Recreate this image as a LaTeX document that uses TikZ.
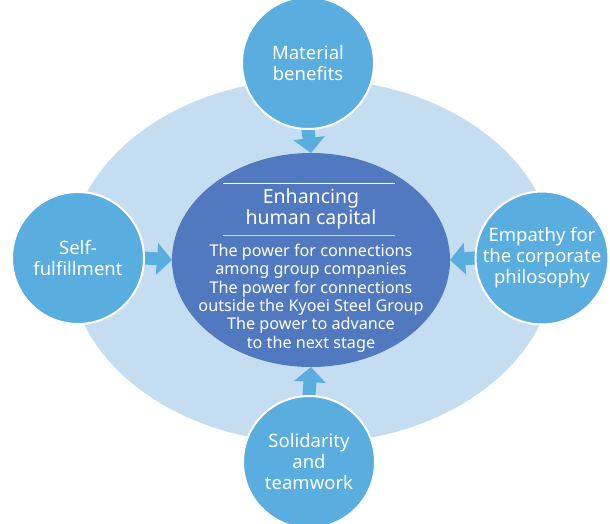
\documentclass[tikz,border=0pt]{standalone}
\usepackage{fontspec}
\setmainfont{Noto Sans}
\usetikzlibrary{arrows.meta}
\definecolor{bgell}{HTML}{C5DDF1}
\definecolor{circ}{HTML}{5AADDF}
\definecolor{core}{HTML}{5179C0}
\pgfdeclarelayer{bg}
\pgfdeclarelayer{mid}
\pgfsetlayers{bg,mid,main}
\tikzset{
  outer/.style={circle, fill=circ, draw=white, line width=2pt, minimum size=132pt, inner sep=0pt,
    text=white, align=center, font=\fontsize{18.5}{21}\selectfont},
  blockarrow/.style={draw=circ, line width=13pt, -{Triangle[width=31pt,length=15pt]}, shorten <=-4pt},
  sepline/.style={draw=white, line width=1pt},
}
\begin{document}
\begin{tikzpicture}[x=1pt,y=-1pt]
\useasboundingbox (0,0) rectangle (610,523);
\begin{pgfonlayer}{bg}
\fill[bgell] (312,261) ellipse [x radius=243, y radius=182];
\fill[core] (311,260) ellipse [x radius=139, y radius=107];
\end{pgfonlayer}
\coordinate (coreN) at (311,153);
\coordinate (coreS) at (311,367);
\coordinate (coreW) at (172,260);
\coordinate (coreE) at (450,260);
\node[outer] (top) at (308,63) {Material\\benefits};
\node[outer] (left) at (78,258) {Self-\\fulfillment};
\node[outer] (right) at (542,258) {Empathy for\\the corporate\\philosophy};
\node[outer] (bottom) at (309,462) {Solidarity\\and\\teamwork};
\begin{pgfonlayer}{mid}
\draw[blockarrow] (top.south) -- (coreN);
\draw[blockarrow] (left.east) -- (coreW);
\draw[blockarrow] (right.west) -- (coreE);
\draw[blockarrow] (bottom.north) -- (coreS);
\end{pgfonlayer}
\coordinate (l1a) at (223,183);
\coordinate (l1b) at (395,183);
\coordinate (l2a) at (223,235);
\coordinate (l2b) at (395,235);
\draw[sepline] (l1a) -- (l1b);
\draw[sepline, draw opacity=0.75] (l2a) -- (l2b);
\node[text=white, align=center, font=\fontsize{19.5}{21.5}\selectfont] (title) at (311,209) {Enhancing\\human capital};
\node[text=white, align=center, font=\fontsize{16.2}{18.3}\selectfont] (body) at (311,298) {The power for connections\\among group companies\\The power for connections\\outside the Kyoei Steel Group\\The power to advance\\to the next stage};
\end{tikzpicture}
\end{document}
